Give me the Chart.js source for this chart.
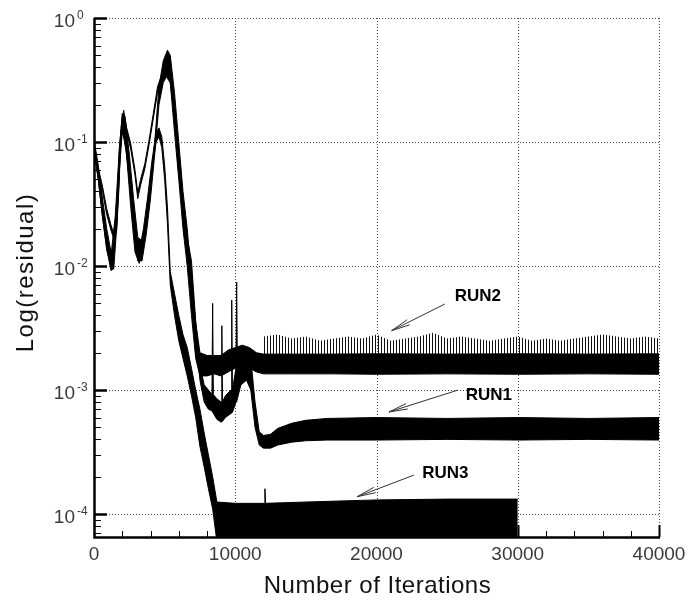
<!DOCTYPE html>
<html>
<head>
<meta charset="utf-8">
<script src="https://cdn.jsdelivr.net/npm/chart.js@4.4.1/dist/chart.umd.min.js"></script>
<style>
  html, body { margin: 0; padding: 0; background: #fff; }
  canvas { display: block; }
</style>
</head>
<body>
<canvas id="chart" width="688" height="600"></canvas>
<script>
// RUN1: lower / upper edge of the trace
const run1Iter = [0, 300, 600, 900, 1200, 1400, 1600, 1750, 1900, 2100, 2300, 2600, 2900, 3100, 3300, 3600, 3900, 4200, 4500, 4800, 5100, 5400, 5700, 6000, 6300, 6600, 6900, 7200, 7500, 7800, 8100, 8350, 8400, 8450, 8700, 9000, 9050, 9100, 9300, 9700, 9750, 9800, 10050, 10100, 10150, 10400, 10800, 11100, 11400, 11700, 12000, 12500, 13000, 14000, 15000, 16500, 20000, 25000, 30000, 35000, 40000];
const run1Lo = [0.082, 0.057, 0.040, 0.026, 0.0195, 0.0165, 0.019, 0.039, 0.105, 0.16, 0.12, 0.088, 0.054, 0.035, 0.045, 0.061, 0.095, 0.155, 0.25, 0.31, 0.34, 0.3, 0.16, 0.064, 0.025, 0.0135, 0.0088, 0.0028, 0.0012, 0.0008, 0.0007, 0.00068, 0.00066, 0.00065, 0.00058, 0.00055, 0.00055, 0.00056, 0.0006, 0.00065, 0.00065, 0.00066, 0.0008, 0.0008, 0.00085, 0.0011, 0.0012, 0.001, 0.0005, 0.00036, 0.00034, 0.00034, 0.00036, 0.00038, 0.00039, 0.000395, 0.000395, 0.0004, 0.000395, 0.0004, 0.000395];
const run1Hi = [0.09, 0.062, 0.044, 0.029, 0.0215, 0.0182, 0.021, 0.043, 0.115, 0.18, 0.132, 0.097, 0.06, 0.039, 0.05, 0.067, 0.104, 0.17, 0.28, 0.35, 0.4, 0.36, 0.2, 0.08, 0.031, 0.017, 0.011, 0.0036, 0.0016, 0.0011, 0.001, 0.00092, 0.005, 0.00092, 0.00085, 0.0008, 0.0033, 0.0008, 0.0009, 0.001, 0.0053, 0.001, 0.0015, 0.0074, 0.0015, 0.002, 0.0021, 0.0018, 0.0008, 0.00046, 0.00043, 0.00044, 0.00049, 0.00054, 0.00057, 0.00059, 0.0006, 0.00059, 0.0006, 0.00059, 0.0006];

// RUN2
const run2Iter = [0, 300, 600, 900, 1200, 1400, 1600, 1800, 2000, 2200, 2500, 2800, 3100, 3400, 3700, 4000, 4300, 4600, 4900, 5200, 5400, 5700, 6000, 6300, 6600, 6900, 7200, 7500, 8000, 8500, 9000, 9500, 10000, 10500, 11000, 11500, 12000, 14000, 17000, 20000, 25000, 30000, 35000, 40000];
const run2Lo = [0.085, 0.05, 0.025, 0.014, 0.0092, 0.0095, 0.02, 0.06, 0.12, 0.1, 0.05, 0.02, 0.011, 0.011, 0.018, 0.035, 0.08, 0.2, 0.3, 0.35, 0.3, 0.12, 0.05, 0.02, 0.01, 0.004, 0.0018, 0.0013, 0.0013, 0.00135, 0.0013, 0.0014, 0.0015, 0.0016, 0.0015, 0.0014, 0.00135, 0.00135, 0.00135, 0.00134, 0.00135, 0.00134, 0.00135, 0.00134];
const run2Hi = [0.105, 0.065, 0.035, 0.02, 0.013, 0.014, 0.03, 0.09, 0.17, 0.16, 0.08, 0.035, 0.017, 0.016, 0.025, 0.045, 0.1, 0.28, 0.45, 0.55, 0.5, 0.25, 0.1, 0.04, 0.02, 0.008, 0.0035, 0.002, 0.0019, 0.0019, 0.0019, 0.0021, 0.0022, 0.0023, 0.0022, 0.002, 0.00195, 0.00195, 0.00195, 0.00196, 0.00195, 0.00196, 0.00195, 0.00196];
// tops of the spikes above the RUN2 band
const run2SpikeIter = [12000, 13000, 14000, 15000, 16000, 17000, 18000, 19000, 20000, 21000, 22000, 23000, 24000, 25000, 26000, 27000, 28000, 29000, 30000, 31000, 32000, 33000, 34000, 35000, 36000, 37000, 38000, 39000, 40000];
const run2SpikeTop = [0.0027, 0.0028, 0.0026, 0.0027, 0.0025, 0.0026, 0.0027, 0.0026, 0.0028, 0.0025, 0.0026, 0.0027, 0.0029, 0.0026, 0.0027, 0.0026, 0.0025, 0.0026, 0.0027, 0.0025, 0.0026, 0.0025, 0.0026, 0.0027, 0.0028, 0.0027, 0.0026, 0.0027, 0.0026];

// RUN3 (stops at 30000)
const run3Iter = [0, 300, 600, 900, 1200, 1500, 1800, 2000, 2300, 2600, 2900, 3200, 3500, 3800, 4100, 4400, 4600, 4800, 5000, 5200, 5400, 5700, 6000, 6300, 6600, 6900, 7200, 7500, 7800, 8100, 8400, 8700, 10000, 12050, 12100, 12150, 15000, 20000, 25000, 30000];
const run3Lo = [0.088, 0.05, 0.025, 0.0135, 0.0098, 0.02, 0.07, 0.13, 0.08, 0.03, 0.013, 0.0105, 0.016, 0.03, 0.06, 0.1, 0.11, 0.09, 0.05, 0.022, 0.007, 0.004, 0.0025, 0.0018, 0.0013, 0.0009, 0.0006, 0.00035, 0.00024, 0.00016, 0.00011, 0.00006, 0.00006, 0.00006, 0.00006, 0.00006, 0.00006, 0.00006, 0.00006, 0.00006];
const run3Hi = [0.1, 0.06, 0.03, 0.016, 0.012, 0.025, 0.09, 0.16, 0.1, 0.04, 0.016, 0.013, 0.02, 0.036, 0.07, 0.12, 0.13, 0.11, 0.065, 0.03, 0.009, 0.006, 0.004, 0.0028, 0.0022, 0.0015, 0.001, 0.0007, 0.00045, 0.0003, 0.0002, 0.000125, 0.000122, 0.000122, 0.00016, 0.000122, 0.000125, 0.00013, 0.000132, 0.000132];

const xTicks = [0, 10000, 20000, 30000, 40000];
const xTickLabels = ['0', '10000', '20000', '30000', '40000'];
const yTicks = [1, 1e-1, 1e-2, 1e-3, 1e-4];
const yTickExp = ['0', '-1', '-2', '-3', '-4'];

// label position, arrow start, arrow tip (data coordinates)
const notes = [
  { text: 'RUN2', at: [27180, 5.7e-3], from: [24840, 4.94e-3], to: [21070, 3.01e-3] },
  { text: 'RUN1', at: [27950, 9.1e-4], from: [25780, 1.0e-3], to: [20880, 6.65e-4] },
  { text: 'RUN3', at: [24880, 2.12e-4], from: [22650, 2.06e-4], to: [18630, 1.38e-4] }
];

function pts(xs, ys) {
  return xs.map((x, i) => ({ x: x, y: ys[i] }));
}

const canvas = document.getElementById('chart');

// vertical hatch used for the spikes above RUN2
const hc = document.createElement('canvas');
hc.width = 3; hc.height = 2;
const hctx = hc.getContext('2d');
hctx.fillStyle = '#111';
hctx.fillRect(0, 0, 1, 2);
const hatch = canvas.getContext('2d').createPattern(hc, 'repeat');

function edge(label, xs, ys, fill) {
  return {
    label: label,
    data: pts(xs, ys),
    borderColor: '#000',
    borderWidth: 1,
    backgroundColor: '#000',
    fill: fill,
    pointRadius: 0,
    tension: 0
  };
}

const datasets = [
  edge('RUN1 low', run1Iter, run1Lo, false),
  edge('RUN1 high', run1Iter, run1Hi, '-1'),
  edge('RUN2 low', run2Iter, run2Lo, false),
  edge('RUN2 high', run2Iter, run2Hi, '-1'),
  {
    label: 'RUN2 spikes',
    data: pts(run2SpikeIter, run2SpikeTop),
    borderWidth: 0,
    borderColor: 'rgba(0,0,0,0)',
    backgroundColor: hatch,
    fill: 3,
    pointRadius: 0,
    tension: 0
  },
  edge('RUN3 low', run3Iter, run3Lo, false),
  edge('RUN3 high', run3Iter, run3Hi, '-1')
];

const frame = {
  id: 'frame',
  beforeDatasetsDraw(chart) {
    const { ctx, chartArea: a, scales: { x, y } } = chart;
    ctx.save();
    ctx.strokeStyle = '#444';
    ctx.lineWidth = 1;
    ctx.setLineDash([1, 2]);
    yTicks.forEach(v => {
      const py = Math.round(y.getPixelForValue(v)) + 0.5;
      ctx.beginPath(); ctx.moveTo(a.left, py); ctx.lineTo(a.right, py); ctx.stroke();
    });
    xTicks.slice(1).forEach(v => {
      const px = Math.round(x.getPixelForValue(v)) + 0.5;
      ctx.beginPath(); ctx.moveTo(px, a.top); ctx.lineTo(px, a.bottom); ctx.stroke();
    });
    ctx.restore();
  },
  afterDatasetsDraw(chart) {
    const { ctx, chartArea: a, scales: { x, y } } = chart;
    ctx.save();
    ctx.strokeStyle = '#000';

    // axis lines
    ctx.lineWidth = 2.5;
    ctx.beginPath();
    ctx.moveTo(a.left + 0.5, a.top);
    ctx.lineTo(a.left + 0.5, a.bottom + 0.5);
    ctx.lineTo(a.right + 1, a.bottom + 0.5);
    ctx.stroke();

    // y ticks, major and log minor
    for (let k = -5; k <= 0; k++) {
      for (let m = 1; m <= 9; m++) {
        const v = m * Math.pow(10, k);
        if (v < y.min || v > y.max) continue;
        const py = Math.round(y.getPixelForValue(v)) + 0.5;
        ctx.lineWidth = m === 1 ? 2.5 : 1;
        ctx.beginPath(); ctx.moveTo(a.left, py); ctx.lineTo(a.left + (m === 1 ? 13 : 7), py); ctx.stroke();
      }
    }
    // x ticks
    for (let v = 2000; v <= 40000; v += 2000) {
      const major = v % 10000 === 0;
      const px = Math.round(x.getPixelForValue(v)) + 0.5;
      ctx.lineWidth = major ? 2 : 1;
      ctx.beginPath(); ctx.moveTo(px, a.bottom); ctx.lineTo(px, a.bottom - (major ? 12 : 6)); ctx.stroke();
    }

    // tick labels
    ctx.fillStyle = '#3a3a3a';
    ctx.textBaseline = 'alphabetic';
    yTicks.forEach((v, i) => {
      const py = y.getPixelForValue(v);
      ctx.font = '19px "Liberation Sans", Arial, sans-serif';
      ctx.textAlign = 'right';
      ctx.fillText('10', a.left - 19, py + 9);
      ctx.font = '12px "Liberation Sans", Arial, sans-serif';
      ctx.textAlign = 'left';
      ctx.fillText(yTickExp[i], a.left - 17, py + 1);
    });
    ctx.font = '19px "Liberation Sans", Arial, sans-serif';
    ctx.textAlign = 'center';
    xTicks.forEach((v, i) => {
      ctx.fillText(xTickLabels[i], x.getPixelForValue(v), a.bottom + 23);
    });

    // axis titles
    ctx.fillStyle = '#111';
    ctx.font = '24px "Liberation Sans", Arial, sans-serif';
    ctx.letterSpacing = '0.5px';
    ctx.fillText('Number of Iterations', (a.left + a.right) / 2 + 1, a.bottom + 56);
    ctx.save();
    ctx.translate(33, (a.top + a.bottom) / 2 - 5);
    ctx.rotate(-Math.PI / 2);
    ctx.letterSpacing = '1.5px';
    ctx.fillText('Log(residual)', 0, 0);
    ctx.restore();
    ctx.letterSpacing = '0px';

    // run labels with arrows
    ctx.strokeStyle = '#333';
    ctx.lineWidth = 1;
    notes.forEach(n => {
      const fx = x.getPixelForValue(n.from[0]), fy = y.getPixelForValue(n.from[1]);
      const tx = x.getPixelForValue(n.to[0]), ty = y.getPixelForValue(n.to[1]);
      ctx.beginPath(); ctx.moveTo(fx, fy); ctx.lineTo(tx, ty); ctx.stroke();
      const ang = Math.atan2(fy - ty, fx - tx);
      [-0.15, 0.15].forEach(d => {
        ctx.beginPath();
        ctx.moveTo(tx, ty);
        ctx.lineTo(tx + 19 * Math.cos(ang + d), ty + 19 * Math.sin(ang + d));
        ctx.stroke();
      });
      ctx.fillStyle = '#000';
      ctx.font = 'bold 17px "Liberation Sans", Arial, sans-serif';
      ctx.textAlign = 'center';
      ctx.textBaseline = 'middle';
      ctx.fillText(n.text, x.getPixelForValue(n.at[0]), y.getPixelForValue(n.at[1]));
    });
    ctx.restore();
  }
};

new Chart(canvas, {
  type: 'line',
  data: { datasets: datasets },
  options: {
    responsive: false,
    animation: false,
    events: [],
    layout: { padding: { left: 94, right: 29, top: 18, bottom: 63 } },
    plugins: { legend: { display: false }, tooltip: { enabled: false } },
    scales: {
      x: { type: 'linear', min: 0, max: 40000, display: false },
      y: { type: 'logarithmic', min: 6.53e-5, max: 1, display: false }
    }
  },
  plugins: [frame]
});
</script>
</body>
</html>
